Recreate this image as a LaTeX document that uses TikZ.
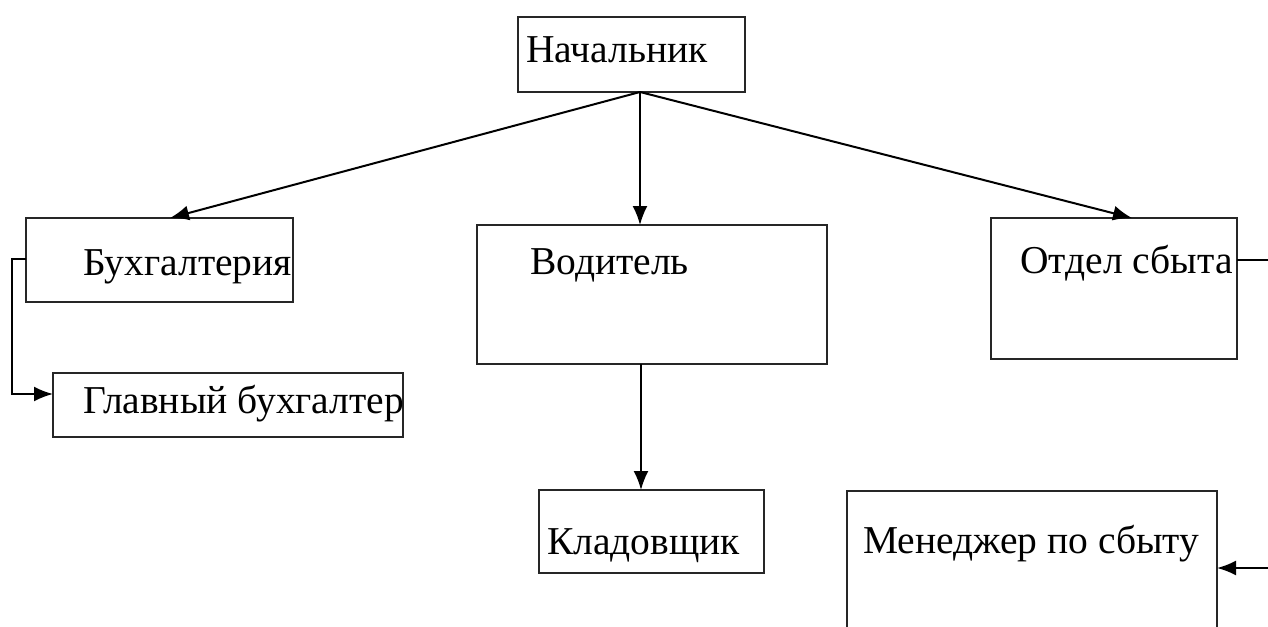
\documentclass[tikz,border=0pt]{standalone}
\usepackage{fontspec}
\setmainfont{Liberation Serif}
\usetikzlibrary{arrows.meta}
\begin{document}
\begin{tikzpicture}[x=1pt,y=-1pt,
  box/.style={draw=black!85,line width=2pt,rectangle,inner sep=0pt,outer sep=0pt},
  lbl/.style={anchor=base west,inner sep=0pt,font=\fontsize{39.5}{42}\selectfont},
  conn/.style={line width=2pt,-{Latex[length=19pt,width=15pt]}},
  plain/.style={line width=2pt}]
\clip (0,0) rectangle (1268,626);
\fill[white] (0,0) rectangle (1268,626);
% boxes
\draw[box] (518,17) rectangle (745,92);
\node[lbl] (nach) at (526,63) {Начальник};
\draw[box] (26,218) rectangle (293,302);
\node[lbl] (buh) at (83,275) {Бухгалтерия};
\draw[box] (53,373) rectangle (403,437);
\node[lbl] (glav) at (83,413) {Главный бухгалтер};
\draw[box] (477,225) rectangle (827,364);
\node[lbl] (vod) at (530,274) {Водитель};
\draw[box] (539,490) rectangle (764,573);
\node[lbl] (klad) at (547,554) {Кладовщик};
\draw[box] (991,218) rectangle (1237,359);
\node[lbl] (otd) at (1020,273) {Отдел сбыта};
\draw[box] (847,491) rectangle (1217,660);
\node[lbl] (men) at (863,553) {Менеджер по сбыту};
% connector points
\coordinate (src) at (640,92);
\coordinate (buhT) at (170,218);
\coordinate (vodT) at (640,225);
\coordinate (otdT) at (1132,218);
\coordinate (vodB) at (641,364);
\coordinate (kladT) at (641,490);
\coordinate (buhL) at (26,259);
\coordinate (glavL) at (53,394);
\coordinate (otdR) at (1237,260);
\coordinate (rightA) at (1275,260);
\coordinate (rightB) at (1275,568);
\coordinate (menR) at (1217,568);
% connectors
\draw[conn] (src) -- (buhT);
\draw[conn] (src) -- (vodT);
\draw[conn] (src) -- (otdT);
\draw[conn] (vodB) -- (kladT);
\draw[conn] (buhL) -- (12,259) -- (12,394) -- (glavL);
\draw[plain] (otdR) -- (rightA);
\draw[conn] (rightB) -- (menR);
\end{tikzpicture}
\end{document}
